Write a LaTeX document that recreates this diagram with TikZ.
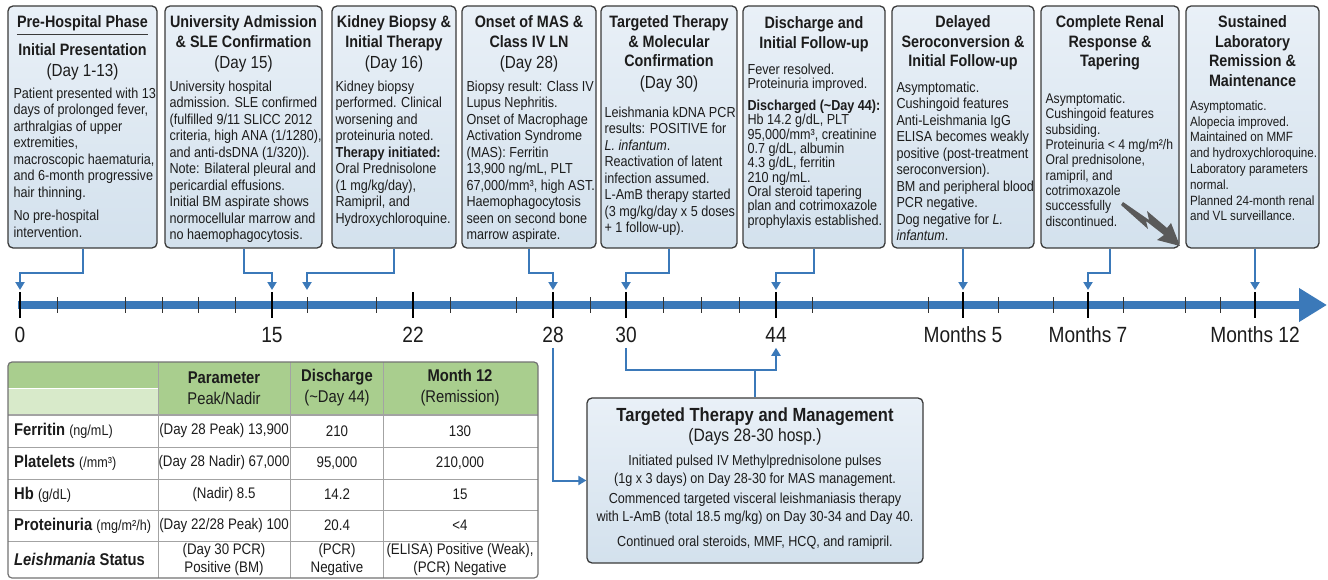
\documentclass[tikz,border=0pt]{standalone}
\usepackage{fontspec}
\setmainfont{Liberation Sans}[FakeStretch=0.87]
\usetikzlibrary{arrows.meta}

\definecolor{tlblue}{HTML}{3B79B9}
\definecolor{boxtop}{HTML}{E9F0F7}
\definecolor{boxbot}{HTML}{D3E1ED}
\definecolor{boxline}{HTML}{3A3A3A}
\definecolor{hdgreen}{HTML}{A9CE8E}
\definecolor{hdlight}{HTML}{D8EACA}
\definecolor{gridgray}{HTML}{A3A3A3}
\definecolor{inktext}{HTML}{1C1C1C}
\definecolor{boltgray}{HTML}{5A5A5A}

\newcommand{\dayfnt}{\mdseries\fontsize{17.5}{21}\selectfont}
\newcommand{\unitfnt}{\mdseries\fontsize{14.5}{16}\selectfont}

\tikzset{
  evbox/.style={draw=boxline, line width=1.3pt, rounded corners=5pt, top color=boxtop, bottom color=boxbot, inner sep=0pt},
  ttl/.style={anchor=north, align=center, inner sep=0pt, text=inktext, font=\bfseries\fontsize{16.5}{19.5}\selectfont},
  body/.style={anchor=north west, align=left, inner sep=0pt, text=inktext, font=\fontsize{14.5}{16.5}\selectfont},
  conn/.style={draw=tlblue, line width=2pt, -{Triangle[width=9pt,length=8pt]}},
  wire/.style={draw=tlblue, line width=2pt},
  daylbl/.style={inner sep=0pt, text=inktext, font=\fontsize{22}{24}\selectfont},
  major/.style={line width=2pt, black},
  minor/.style={line width=0.9pt, black!80},
  cell/.style={inner sep=0pt, align=center, text=inktext, font=\fontsize{15.3}{17.5}\selectfont},
  rowhd/.style={inner sep=0pt, anchor=west, text=inktext, font=\bfseries\fontsize{17}{19}\selectfont},
  grid/.style={draw=gridgray, line width=0.9pt},
}

\begin{document}
\begin{tikzpicture}[x=1pt, y=-1pt]
\useasboundingbox (0,0) rectangle (1328,580);
\fill[white] (0,0) rectangle (1328,580);

% event boxes
\node[evbox, minimum width=149pt, minimum height=242pt] (pre) at (82.5,127) {};
\node[evbox, minimum width=157pt, minimum height=242pt] (adm) at (243.5,127) {};
\node[evbox, minimum width=124pt, minimum height=242pt] (bio) at (394,127) {};
\node[evbox, minimum width=134pt, minimum height=242pt] (mas) at (529,127) {};
\node[evbox, minimum width=136pt, minimum height=242pt] (tgt) at (669,127) {};
\node[evbox, minimum width=142pt, minimum height=242pt] (dis) at (814,127) {};
\node[evbox, minimum width=142pt, minimum height=242pt] (sero) at (963,127) {};
\node[evbox, minimum width=138pt, minimum height=242pt] (renal) at (1110,127) {};
\node[evbox, minimum width=133pt, minimum height=242pt] (remit) at (1252.5,127) {};

\node[ttl] (phase) at ([yshift=-10pt]pre.north) {Pre-Hospital Phase};
\draw[boxline, line width=1pt] ([yshift=-3pt]phase.south west) -- ([yshift=-3pt]phase.south east);
\node[ttl] (pretitle) at ([yshift=-38pt]pre.north) {Initial Presentation\\[1pt]{\dayfnt (Day 1-13)}};
\node[body] (pretext) at ([xshift=6pt,yshift=-82pt]pre.north west) {Patient presented with 13\\
days of prolonged fever,\\
arthralgias of upper\\
extremities,\\
macroscopic haematuria,\\
and 6-month progressive\\
hair thinning.\\[7pt]
No pre-hospital\\
intervention.};

\node[ttl] (admtitle) at ([yshift=-10pt]adm.north) {University Admission\\\& SLE Confirmation\\[2pt]{\dayfnt (Day 15)}};
\node[body] (admtext) at ([xshift=5pt,yshift=-75pt]adm.north west) {University hospital\\
admission. SLE confirmed\\
(fulfilled 9/11 SLICC 2012\\
criteria, high ANA (1/1280),\\
and anti-dsDNA (1/320)).\\
Note: Bilateral pleural and\\
pericardial effusions.\\
Initial BM aspirate shows\\
normocellular marrow and\\
no haemophagocytosis.};

\node[ttl] (biotitle) at ([yshift=-10pt]bio.north) {Kidney Biopsy \&\\Initial Therapy\\[2pt]{\dayfnt (Day 16)}};
\node[body] (biotext) at ([xshift=4pt,yshift=-75pt]bio.north west) {Kidney biopsy\\
performed. Clinical\\
worsening and\\
proteinuria noted.\\
\textbf{Therapy initiated:}\\
Oral Prednisolone\\
(1 mg/kg/day),\\
Ramipril, and\\
Hydroxychloroquine.};

\node[ttl] (mastitle) at ([yshift=-10pt]mas.north) {Onset of MAS \&\\Class IV LN\\[2pt]{\dayfnt (Day 28)}};
\node[body] (mastext) at ([xshift=5pt,yshift=-75pt]mas.north west) {Biopsy result: Class IV\\
Lupus Nephritis.\\
Onset of Macrophage\\
Activation Syndrome\\
(MAS): Ferritin\\
13,900 ng/mL, PLT\\
67,000/mm³, high AST.\\
Haemophagocytosis\\
seen on second bone\\
marrow aspirate.};

\node[ttl] (tgttitle) at ([yshift=-10pt]tgt.north) {Targeted Therapy\\\& Molecular\\Confirmation\\[2pt]{\dayfnt (Day 30)}};
\node[body] (tgttext) at ([xshift=4pt,yshift=-101pt]tgt.north west) {Leishmania kDNA PCR\\
results: POSITIVE for\\
\textit{L. infantum}.\\
Reactivation of latent\\
infection assumed.\\
L-AmB therapy started\\
(3 mg/kg/day x 5 doses\\
+ 1 follow-up).};

\node[ttl] (distitle) at ([yshift=-11pt]dis.north) {Discharge and\\Initial Follow-up};
\node[body, font=\fontsize{14.5}{14.3}\selectfont] (distext) at ([xshift=5pt,yshift=-58pt]dis.north west) {Fever resolved.\\
Proteinuria improved.\\[8pt]
\textbf{Discharged (\textasciitilde Day 44):}\\
Hb 14.2 g/dL, PLT\\
95,000/mm³, creatinine\\
0.7 g/dL, albumin\\
4.3 g/dL, ferritin\\
210 ng/mL.\\
Oral steroid tapering\\
plan and cotrimoxazole\\
prophylaxis established.};

\node[ttl] (serotitle) at ([yshift=-10pt]sero.north) {Delayed\\Seroconversion \&\\Initial Follow-up};
\node[body] (serotext) at ([xshift=5pt,yshift=-76pt]sero.north west) {Asymptomatic.\\
Cushingoid features\\
Anti-Leishmania IgG\\
ELISA becomes weakly\\
positive (post-treatment\\
seroconversion).\\
BM and peripheral blood\\
PCR negative.\\
Dog negative for \textit{L.}\\
\textit{infantum}.};

\node[ttl] (renaltitle) at ([yshift=-10pt]renal.north) {Complete Renal\\Response \&\\Tapering};
\node[body, font=\fontsize{14}{15.3}\selectfont] (renaltext) at ([xshift=5pt,yshift=-88pt]renal.north west) {Asymptomatic.\\
Cushingoid features\\
subsiding.\\
Proteinuria < 4 mg/m²/h\\
Oral prednisolone,\\
ramipril, and\\
cotrimoxazole\\
successfully\\
discontinued.};
\fill[boltgray] (1123,202) -- (1149,220) -- (1147,211) -- (1167,228) -- (1171,223) -- (1180,246) -- (1157,240) -- (1164,235) -- (1146,221) -- (1148,229) -- (1121,205) -- cycle;

\node[ttl] (remittitle) at ([yshift=-10pt]remit.north) {Sustained\\Laboratory\\Remission \&\\Maintenance};
\node[body, font=\fontsize{13.4}{15.8}\selectfont] (remittext) at ([xshift=4.5pt,yshift=-95pt]remit.north west) {Asymptomatic.\\
Alopecia improved.\\
Maintained on MMF\\
and hydroxychloroquine.\\
Laboratory parameters\\
normal.\\
Planned 24-month renal\\
and VL surveillance.};

% time axis
\coordinate (axstart) at (18,305);
\coordinate (axend) at (1327,305);
\draw[tlblue, line width=8pt, -{Triangle[width=32pt,length=28pt]}] (axstart) -- (axend);
\foreach \x in {57,125,162,198,235,307,376,450,516,590,663,701,739,812,928,998,1053,1123,1185,1220}
  \draw[minor] (\x,297) -- (\x,313);
\foreach \x/\n/\t in {20/d0/0, 272/d15/15, 413/d22/22, 553/d28/28, 626/d30/30, 776/d44/44, 963/m5/Months 5, 1088/m7/Months 7, 1255/m12/Months 12} {
  \draw[major] (\x,292) -- (\x,318);
  \coordinate (\n) at (\x,290);
  \node[daylbl] (l\n) at (\x,335) {\t};
}
\coordinate (d16) at (307,290);

\draw[conn] (pre.south) -- ++(0,24) -| (d0);
\draw[conn] (adm.south) -- ++(0,24) -| (d15);
\draw[conn] (bio.south) -- ++(0,24) -| (d16);
\draw[conn] (mas.south) -- ++(0,24) -| (d28);
\draw[conn] (tgt.south) -- ++(0,24) -| (d30);
\draw[conn] (dis.south) -- ++(0,24) -| (d44);
\draw[conn] (sero.south) -- (m5);
\draw[conn] (renal.south) -- ++(0,24) -| (m7);
\draw[conn] (m12 |- remit.south) -- (m12);

% management box
\node[evbox, minimum width=336pt, minimum height=165pt] (plan) at (755,480.5) {};
\node[ttl, font=\bfseries\fontsize{19}{22}\selectfont] (plantitle) at ([yshift=-10pt]plan.north) {Targeted Therapy and Management};
\node[cell, font=\fontsize{18}{20}\selectfont] (plandays) at (755,437) {(Days 28-30 hosp.)};
\node[cell, anchor=north, font=\fontsize{14.5}{18}\selectfont] (plantext) at (755,455) {Initiated pulsed IV Methylprednisolone pulses\\
(1g x 3 days) on Day 28-30 for MAS management.\\[2pt]
Commenced targeted visceral leishmaniasis therapy\\
with L-AmB (total 18.5 mg/kg) on Day 30-34 and Day 40.\\[7pt]
Continued oral steroids, MMF, HCQ, and ramipril.};

\coordinate (brk) at ([yshift=-27pt]ld30.south);
\draw[conn] ([yshift=-5pt]ld28.south) |- (plan.west);
\draw[conn] ([yshift=-5pt]ld30.south) -- (brk) -| ([yshift=-5pt]ld44.south);
\draw[wire] (plan.north) -- (plan.north |- brk);

% lab table
\begin{scope}
\clip[rounded corners=4pt] (8,362) rectangle (538,578);
\fill[hdgreen] (8,362) rectangle (538,415);
\fill[hdlight] (8,389) rectangle (158,415);
\end{scope}
\draw[white, line width=1.5pt] (8,388.5) -- (158,388.5);
\foreach \y in {447,479,510,541}
  \draw[grid] (8,\y) -- (538,\y);
\draw[grid, line width=1.2pt] (8,415) -- (538,415);
\foreach \x in {158,290,383}
  \draw[grid] (\x,362) -- (\x,578);
\draw[gridgray!70!black, line width=1.2pt, rounded corners=4pt] (8,362) rectangle (538,578);

\node[cell, font=\fontsize{17}{21}\selectfont] (hpeak) at (224,388) {\textbf{Parameter}\\Peak/Nadir};
\node[cell, font=\fontsize{17}{21}\selectfont] (hdis) at (337,388) {\textbf{Discharge}\\(\textasciitilde Day 44)};
\node[cell, font=\fontsize{17}{21}\selectfont] (hmon) at (460,388) {\textbf{Month 12}\\(Remission)};

\node[rowhd] (rfer) at (14,431) {Ferritin {\unitfnt (ng/mL)}};
\node[rowhd] (rplt) at (14,463) {Platelets {\unitfnt (/mm³)}};
\node[rowhd] (rhb) at (14,494.5) {Hb {\unitfnt (g/dL)}};
\node[rowhd] (rpro) at (14,525.5) {Proteinuria {\unitfnt (mg/m²/h)}};
\node[rowhd] (rlei) at (14,559.5) {\textit{Leishmania} Status};

\node[cell] at (224,431) {(Day 28 Peak) 13,900};
\node[cell] at (337,431) {210};
\node[cell] at (460,431) {130};
\node[cell] at (224,463) {(Day 28 Nadir) 67,000};
\node[cell] at (337,463) {95,000};
\node[cell] at (460,463) {210,000};
\node[cell] at (224,494.5) {(Nadir) 8.5};
\node[cell] at (337,494.5) {14.2};
\node[cell] at (460,494.5) {15};
\node[cell] at (224,525.5) {(Day 22/28 Peak) 100};
\node[cell] at (337,525.5) {20.4};
\node[cell] at (460,525.5) {<4};
\node[cell] at (224,559.5) {(Day 30 PCR)\\Positive (BM)};
\node[cell] at (337,559.5) {(PCR)\\Negative};
\node[cell] at (460,559.5) {(ELISA) Positive (Weak),\\(PCR) Negative};
\end{tikzpicture}
\end{document}
